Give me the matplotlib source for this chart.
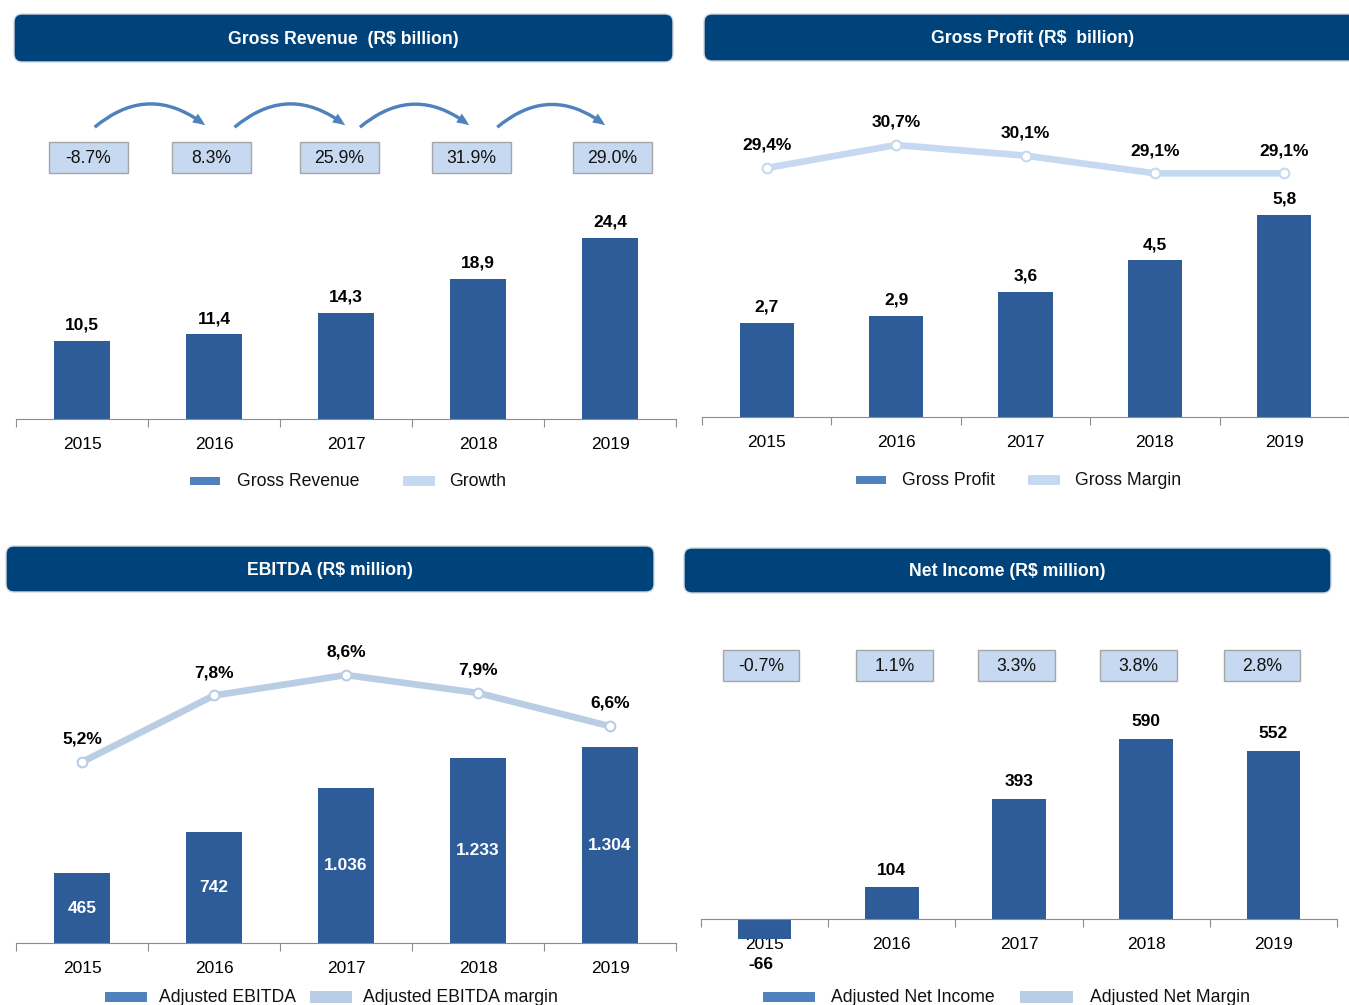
import numpy as np
import matplotlib.pyplot as plt
from matplotlib import transforms
from matplotlib.patches import FancyBboxPatch, FancyArrowPatch, Rectangle

plt.rcParams['font.family'] = ['Liberation Sans', 'DejaVu Sans']

years = ['2015', '2016', '2017', '2018', '2019']
gross_revenue = [10.5, 11.4, 14.3, 18.9, 24.4]
revenue_growth = [-8.7, 8.3, 25.9, 31.9, 29.0]
gross_profit = [2.7, 2.9, 3.6, 4.5, 5.8]
gross_margin = [29.4, 30.7, 30.1, 29.1, 29.1]
ebitda = [465, 742, 1036, 1233, 1304]
ebitda_margin = [5.2, 7.8, 8.6, 7.9, 6.6]
net_income = [-66, 104, 393, 590, 552]
net_margin = [-0.7, 1.1, 3.3, 3.8, 2.8]

W, H = 1349, 1005
BAR = '#2d5c98'
BAR_LEG = '#4f81bd'
LIGHT = '#c6d9f0'
LIGHT2 = '#b9cde5'
NAVY = '#00437a'
GREY = '#8c8c8c'

# small horizontal nudges of the boxes (as in the original slide)
growth_shift = [0.05, -0.02, -0.05, -0.05, 0.02]
netm_shift = [-0.03, 0.02, -0.02, -0.06, -0.09]
# arrows between growth boxes, start/end in category units
arrow_ends = [(0.08, 0.95), (1.14, 2.01), (2.09, 2.95), (3.13, 3.98)]

fig = plt.figure(figsize=(W / 100, H / 100), dpi=100)
ov = fig.add_axes([0, 0, 1, 1], zorder=0)
ov.set_xlim(0, W)
ov.set_ylim(H, 0)
ov.axis('off')
x = np.arange(len(years))


def comma(v, d=1):
    return f"{v:.{d}f}".replace('.', ',')


def header(l, t, r, b, text):
    box = FancyBboxPatch((l, t), r - l, b - t, boxstyle='round,pad=0,rounding_size=8',
                         fc=NAVY, ec='#d0d8e0', lw=1, transform=ov.transData, clip_on=False)
    ov.add_patch(box)
    ov.text((l + r) / 2, (t + b) / 2 + 1, text, color='white', fontsize=12.7, fontweight='bold',
            ha='center', va='center')


def legend(items, y):
    for (px, w, h, col, tx, label) in items:
        ov.add_patch(Rectangle((px, y - h / 2), w, h, fc=col, ec='none'))
        ov.text(tx, y, label, fontsize=12.7, ha='left', va='center', color='#111111')


def bar_panel(l, t, r, b, base, scale, vals):
    ax = fig.add_axes([l / W, 1 - b / H, (r - l) / W, (b - t) / H], zorder=1)
    ax.patch.set_alpha(0)
    ax.bar(x, vals, width=0.42, color=BAR, zorder=2)
    ax.set_xlim(-0.5, len(years) - 0.5)
    ax.set_ylim((base - b) / scale, (base - t) / scale)
    for s in ['top', 'left', 'right']:
        ax.spines[s].set_visible(False)
    ax.spines['bottom'].set_position(('data', 0))
    ax.spines['bottom'].set_color(GREY)
    ax.set_xticks(np.arange(-0.5, len(years)), [])
    ax.tick_params(axis='x', which='major', length=6, color=GREY, direction='out')
    ax.set_xticks(x, years, minor=True)
    ax.tick_params(axis='x', which='minor', length=0, pad=13, labelsize=12.5)
    ax.set_yticks([])
    return ax


def margin_line(ax, t, b, ref_val, ref_px, scale, vals, col):
    tw = ax.twinx()
    tw.set_ylim(ref_val - (b - ref_px) / scale, ref_val + (ref_px - t) / scale)
    for s in tw.spines.values():
        s.set_visible(False)
    tw.set_yticks([])
    tw.plot(x, vals, color=col, lw=4.8, solid_capstyle='round', zorder=3)
    tw.plot(x, vals, ls='none', marker='o', ms=7, mfc='white', mec=col, mew=1.5, zorder=4)
    for i, v in enumerate(vals):
        tw.annotate(comma(v) + '%', (i, v), xytext=(0, 11), textcoords='offset points',
                    ha='center', va='bottom', fontsize=12.5, fontweight='bold')
    return tw


def boxes(ax, vals, shift, top):
    bt = transforms.blended_transform_factory(ax.transData, ov.transData)
    for i, g in enumerate(vals):
        cx = i + shift[i]
        fig.add_artist(Rectangle((cx - 0.3, top), 0.6, 31, transform=bt,
                                 fc=LIGHT, ec='#a6a6a6', lw=1))
        fig.add_artist(plt.Text(cx, top + 16, f"{g:.1f}%", transform=bt, fontsize=12.7,
                                ha='center', va='center', color='#111111'))
    return bt


# ---- Gross Revenue
header(14, 14, 673, 62, 'Gross Revenue  (R$ billion)')
ax1 = bar_panel(16, 200, 676, 419, 419, 7.42, gross_revenue)
for i, v in enumerate(gross_revenue):
    ax1.annotate(comma(v), (i, v), xytext=(0, 6), textcoords='offset points',
                 ha='center', va='bottom', fontsize=12.5, fontweight='bold')
bt1 = boxes(ax1, revenue_growth, growth_shift, 142)
for a, b in arrow_ends:
    fig.add_artist(FancyArrowPatch((a, 129), (b, 127), transform=bt1,
                                   connectionstyle='arc3,rad=-0.42',
                                   arrowstyle='simple,head_width=5,head_length=6,tail_width=1.6',
                                   fc=BAR_LEG, ec='none', mutation_scale=1.5))
legend([(190, 30, 8, BAR_LEG, 237, 'Gross Revenue'),
        (403, 32, 10, LIGHT, 449, 'Growth')], 481)

# ---- Gross Profit
header(704, 14, 1362, 61, 'Gross Profit (R$  billion)')
ax2 = bar_panel(702, 100, 1349, 417, 417, 34.8, gross_profit)
for i, v in enumerate(gross_profit):
    ax2.annotate(comma(v), (i, v), xytext=(0, 6), textcoords='offset points',
                 ha='center', va='bottom', fontsize=12.5, fontweight='bold')
margin_line(ax2, 100, 417, 30.7, 145, 17.7, gross_margin, LIGHT)
legend([(856, 30, 8, BAR_LEG, 902, 'Gross Profit'),
        (1028, 32, 10, LIGHT, 1075, 'Gross Margin')], 480)

# ---- EBITDA
header(6, 546, 654, 592, 'EBITDA (R$ million)')
ax3 = bar_panel(16, 640, 676, 943, 943, 0.150, ebitda)
for i, v in enumerate(ebitda):
    ax3.text(i, v / 2, f"{v:,}".replace(',', '.'), ha='center', va='center',
             color='white', fontsize=12.5, fontweight='bold', zorder=5)
margin_line(ax3, 640, 943, 8.6, 675, 25.6, ebitda_margin, LIGHT2)
legend([(105, 42, 10, BAR_LEG, 159, 'Adjusted EBITDA'),
        (310, 42, 12, LIGHT2, 363, 'Adjusted EBITDA margin')], 997)

# ---- Net Income
header(684, 548, 1331, 593, 'Net Income (R$ million)')
ax4 = bar_panel(701, 700, 1337, 960, 919, 0.305, net_income)
for i, v in enumerate(net_income):
    if v >= 0:
        ax4.annotate(str(v), (i, v), xytext=(0, 7), textcoords='offset points',
                     ha='center', va='bottom', fontsize=12.5, fontweight='bold')
    else:
        ax4.annotate(str(v), (i, v), xytext=(-3, -13), textcoords='offset points',
                     ha='center', va='top', fontsize=12.5, fontweight='bold')
boxes(ax4, net_margin, netm_shift, 650)
legend([(763, 52, 10, BAR_LEG, 831, 'Adjusted Net Income'),
        (1020, 53, 12, LIGHT2, 1090, 'Adjusted Net Margin')], 997)

fig.savefig('out.png', dpi=100)
